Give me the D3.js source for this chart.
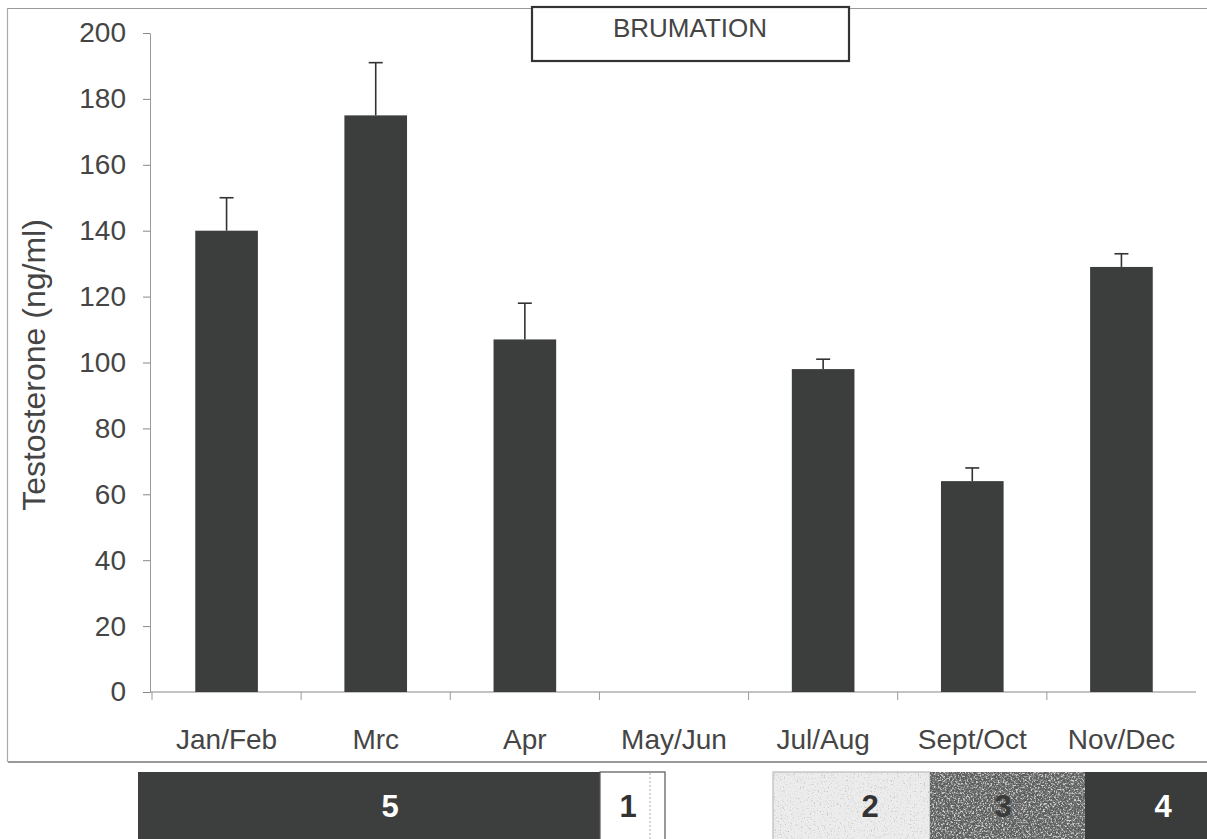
<!DOCTYPE html>
<html>
<head>
<meta charset="utf-8">
<script src="https://cdn.jsdelivr.net/npm/d3@7"></script>
<style>
  html, body { margin: 0; padding: 0; background: #fff; }
  svg { display: block; font-family: "Liberation Sans", Arial, sans-serif; }
</style>
</head>
<body>
<svg id="chart" width="1207" height="839"></svg>
<script>
// Serum testosterone by sampling period (mean + upper error)
const categories = ["Jan/Feb", "Mrc", "Apr", "May/Jun", "Jul/Aug", "Sept/Oct", "Nov/Dec"];
const means      = [140, 175, 107, null, 98, 64, 129];
const errors     = [10, 16, 11, null, 3, 4, 4];
const yTicks     = [0, 20, 40, 60, 80, 100, 120, 140, 160, 180, 200];

// Reproductive phase strip under the chart
const phaseLabels = ["5", "1", "2", "3", "4"];

const svg = d3.select("#chart");
const ink = "#454545";
const barFill = "#3c3e3d";

const x = d3.scaleBand().domain(categories).range([152, 1196]).paddingInner(0.58).paddingOuter(0.29);
const y = d3.scaleLinear().domain([0, 200]).range([692, 33]);

// outer frame lines
svg.append("line").attr("x1", 8).attr("x2", 1207).attr("y1", 8.5).attr("y2", 8.5)
  .attr("stroke", "#999").attr("stroke-width", 1.2);
svg.append("line").attr("x1", 7.5).attr("x2", 7.5).attr("y1", 8).attr("y2", 762)
  .attr("stroke", "#aaa").attr("stroke-width", 1.2);
svg.append("line").attr("x1", 8).attr("x2", 1207).attr("y1", 762).attr("y2", 762)
  .attr("stroke", "#777").attr("stroke-width", 1.4);

// y axis
const yAxis = svg.append("g").attr("transform", "translate(150,0)")
  .call(d3.axisLeft(y).tickValues(yTicks).tickSize(7).tickPadding(17).tickSizeOuter(0));
yAxis.select(".domain").attr("stroke", "#999").attr("stroke-width", 1);
yAxis.selectAll(".tick line").attr("stroke", "#888");
yAxis.selectAll(".tick text").attr("fill", ink).attr("font-size", 28)
  .attr("font-family", "Liberation Sans, Arial, sans-serif");

// x axis: ticks fall on the category boundaries
const gap = (x.step() - x.bandwidth()) / 2;
const xAxisG = svg.append("g").attr("transform", "translate(0,692)");
xAxisG.append("line").attr("x1", 150).attr("x2", 1196).attr("y1", 0).attr("y2", 0)
  .attr("stroke", "#888").attr("stroke-width", 1.2);
xAxisG.selectAll("line.tk").data(categories).join("line").attr("class", "tk")
  .attr("x1", d => x(d) - gap).attr("x2", d => x(d) - gap)
  .attr("y1", 0).attr("y2", 8).attr("stroke", "#999");
xAxisG.selectAll("text").data(categories).join("text")
  .attr("x", d => x(d) + x.bandwidth() / 2)
  .attr("y", 57)
  .attr("text-anchor", "middle")
  .attr("fill", ink).attr("font-size", 28)
  .text(d => d);

// y label
svg.append("text")
  .attr("transform", "translate(45,365) rotate(-90)")
  .attr("text-anchor", "middle")
  .attr("fill", ink).attr("font-size", 32)
  .text("Testosterone (ng/ml)");

// bars
const rows = categories.map((c, i) => ({ c, m: means[i], e: errors[i] })).filter(d => d.m != null);
svg.append("g").selectAll("rect").data(rows).join("rect")
  .attr("x", d => x(d.c)).attr("width", x.bandwidth())
  .attr("y", d => y(d.m)).attr("height", d => y(0) - y(d.m))
  .attr("fill", barFill);

// error bars (upper only)
const eb = svg.append("g").attr("stroke", "#333").attr("stroke-width", 1.6);
eb.selectAll("line.v").data(rows).join("line").attr("class", "v")
  .attr("x1", d => x(d.c) + x.bandwidth() / 2).attr("x2", d => x(d.c) + x.bandwidth() / 2)
  .attr("y1", d => y(d.m)).attr("y2", d => y(d.m + d.e));
eb.selectAll("line.h").data(rows).join("line").attr("class", "h")
  .attr("x1", d => x(d.c) + x.bandwidth() / 2 - 7).attr("x2", d => x(d.c) + x.bandwidth() / 2 + 7)
  .attr("y1", d => y(d.m + d.e)).attr("y2", d => y(d.m + d.e));

// BRUMATION box
svg.append("rect").attr("x", 532).attr("y", 7).attr("width", 317).attr("height", 54)
  .attr("fill", "#fff").attr("stroke", "#333").attr("stroke-width", 2.2);
svg.append("text").attr("x", 690).attr("y", 37).attr("text-anchor", "middle")
  .attr("fill", ink).attr("font-size", 26).text("BRUMATION");

// speckle textures for the stippled phase boxes
const defs = svg.append("defs");
function speckle(id, freq, r, g, b, k, off, seed) {
  const f = defs.append("filter").attr("id", id)
    .attr("x", 0).attr("y", 0).attr("width", 1).attr("height", 1);
  f.append("feTurbulence").attr("type", "fractalNoise").attr("baseFrequency", freq)
    .attr("numOctaves", 2).attr("seed", seed).attr("result", "n");
  f.append("feColorMatrix").attr("in", "n").attr("type", "matrix")
    .attr("values", `0 0 0 0 ${r}  0 0 0 0 ${g}  0 0 0 0 ${b}  ${k} 0 0 0 ${off}`);
}
speckle("spk2", 0.7, 0.55, 0.55, 0.55, 4, -2.3, 4);
speckle("spk3a", 0.55, 0.62, 0.63, 0.62, 5, -2.4, 7);
speckle("spk3b", 0.6, 0.2, 0.2, 0.2, 5, -2.6, 11);

const strip = [
  { x0: 138, x1: 600, fill: "#3d3f3e", text: "#fff", tx: 390, stroke: null, tex: [] },
  { x0: 600, x1: 665, fill: "#fff", text: "#333", tx: 628, stroke: "#555", tex: [] },
  { x0: 773, x1: 930, fill: "#ececec", text: "#333", tx: 870, stroke: "#bbb", tex: ["spk2"] },
  { x0: 930, x1: 1085, fill: "#5c5e5d", text: "#3a3c3b", tx: 1003, stroke: null, tex: ["spk3a", "spk3b"] },
  { x0: 1085, x1: 1207, fill: "#3a3c3b", text: "#fff", tx: 1163, stroke: null, tex: [] }
].map((d, i) => Object.assign(d, { lab: phaseLabels[i] }));

const sg = svg.append("g");
strip.forEach(d => {
  sg.append("rect").attr("x", d.x0).attr("y", 772).attr("width", d.x1 - d.x0).attr("height", 70)
    .attr("fill", d.fill)
    .attr("stroke", d.stroke || "none").attr("stroke-width", 1.2);
  d.tex.forEach(t => {
    sg.append("rect").attr("x", d.x0).attr("y", 772).attr("width", d.x1 - d.x0).attr("height", 70)
      .attr("fill", "#000").attr("filter", `url(#${t})`);
  });
  sg.append("text")
    .attr("x", d.tx)
    .attr("y", 817).attr("text-anchor", "middle")
    .attr("font-size", 31).attr("font-weight", "bold")
    .attr("fill", d.text).text(d.lab);
});
sg.append("line").attr("x1", 650).attr("x2", 650).attr("y1", 773).attr("y2", 839)
  .attr("stroke", "#aaa").attr("stroke-dasharray", "2,2");
</script>
</body>
</html>
